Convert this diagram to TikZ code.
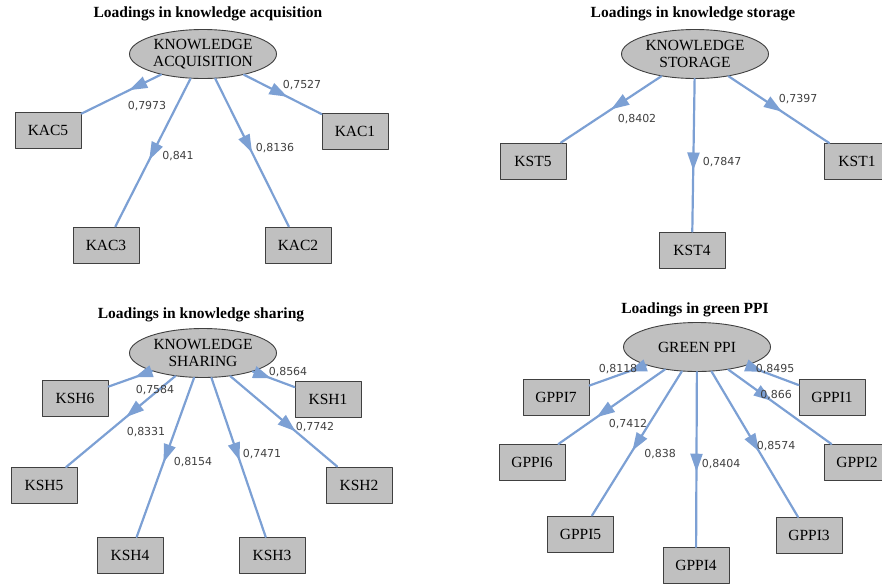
\documentclass[tikz,border=0pt]{standalone}
\usepackage{fontspec}
\setmainfont{Liberation Serif}
\newfontfamily\itemfont{Liberation Serif}
\newfontfamily\weightfont{DejaVu Sans}
\usepackage{xcolor}
\usetikzlibrary{arrows.meta,decorations.markings,shapes.geometric}
\definecolor{pathblue}{RGB}{124,160,212}
\definecolor{semgray}{RGB}{192,192,192}
\tikzset{
  every picture/.append style={line cap=round,line join=round},
  sem latent/.style={ellipse,draw=black!75,fill=semgray,line width=0.9pt,minimum width=147pt,minimum height=49pt,inner sep=0pt,align=center,font=\itemfont\fontsize{15.5}{17}\selectfont},
  sem item/.style={rectangle,draw=black!75,fill=semgray,line width=1pt,minimum width=66pt,minimum height=36pt,inner sep=0pt,font=\itemfont\fontsize{15.5}{17}\selectfont},
  sem title/.style={font=\itemfont\fontsize{15.5}{17}\selectfont\bfseries},
  sem weight/.style={font=\weightfont\fontsize{11}{13}\selectfont,text=black!75,inner sep=0pt},
  sem path/.style={pathblue,line width=2.2pt,postaction={decorate},
    decoration={markings,mark=at position #1 with {\arrow{Triangle[length=18pt 0 0,width=12pt 0 0]}}}},
  sem path/.default=0.5
}
\begin{document}
\begin{tikzpicture}[x=1pt,y=-1pt]
  \useasboundingbox (0,0) rectangle (882,584);

  % knowledge acquisition
  \node[sem title] (t1) at (208,14) {Loadings in knowledge acquisition};
  \node[sem latent] (ka) at (203,54) {KNOWLEDGE\\ACQUISITION};
  \node[sem item] (kac5) at (48,130) {KAC5};
  \node[sem item] (kac1) at (355,131) {KAC1};
  \node[sem item] (kac3) at (106,245) {KAC3};
  \node[sem item] (kac2) at (298,245) {KAC2};
  \foreach \i/\p in {kac5/0.40,kac1/0.56,kac3/0.55,kac2/0.50}
    \draw[sem path=\p] (ka) -- (\i);
  \node[sem weight] (w11) at (302,85) {0,7527};
  \node[sem weight] (w12) at (147,106) {0,7973};
  \node[sem weight] (w13) at (178,156) {0,841};
  \node[sem weight] (w14) at (275,148) {0,8136};

  % knowledge storage
  \node[sem title] (t2) at (693,14) {Loadings in knowledge storage};
  \node[sem latent] (ks) at (695,54) {KNOWLEDGE\\STORAGE};
  \node[sem item] (kst5) at (533,161) {KST5};
  \node[sem item] (kst1) at (857,161.5) {KST1};
  \node[sem item] (kst4) at (692,250) {KST4};
  \foreach \i/\p in {kst5/0.50,kst1/0.53,kst4/0.60}
    \draw[sem path=\p] (ks) -- (\i);
  \node[sem weight] (w21) at (637,119) {0,8402};
  \node[sem weight] (w22) at (722,162) {0,7847};
  \node[sem weight] (w23) at (798,99) {0,7397};

  % knowledge sharing
  \node[sem title] (t3) at (201,315) {Loadings in knowledge sharing};
  \node[sem latent] (ksh) at (203,353) {KNOWLEDGE\\SHARING};
  \node[sem item] (ksh6) at (75,398.5) {KSH6};
  \node[sem item] (ksh1) at (328,399.5) {KSH1};
  \node[sem item] (ksh5) at (44,485.5) {KSH5};
  \node[sem item] (ksh2) at (359,485) {KSH2};
  \node[sem item] (ksh4) at (130,555.5) {KSH4};
  \node[sem item] (ksh3) at (272,555.5) {KSH3};
  \foreach \i/\p in {ksh6/0.40,ksh1/0.44,ksh5/0.45,ksh2/0.61,ksh4/0.53,ksh3/0.52}
    \draw[sem path=\p] (ksh) -- (\i);
  \node[sem weight] (w31) at (288,372) {0,8564};
  \node[sem weight] (w32) at (155,390) {0,7584};
  \node[sem weight] (w33) at (146,432) {0,8331};
  \node[sem weight] (w34) at (315,427) {0,7742};
  \node[sem weight] (w35) at (193,462) {0,8154};
  \node[sem weight] (w36) at (262,454) {0,7471};

  % green PPI
  \node[sem title] (t4) at (695,310) {Loadings in green PPI};
  \node[sem latent] (gp) at (697,347) {GREEN PPI};
  \node[sem item] (gppi7) at (556,397.5) {GPPI7};
  \node[sem item] (gppi1) at (832,397.5) {GPPI1};
  \node[sem item] (gppi6) at (532,462.5) {GPPI6};
  \node[sem item] (gppi2) at (857,462.5) {GPPI2};
  \node[sem item] (gppi5) at (580.5,534) {GPPI5};
  \node[sem item] (gppi3) at (809,535.5) {GPPI3};
  \node[sem item] (gppi4) at (696,565.5) {GPPI4};
  \foreach \i/\p in {gppi7/0.31,gppi1/0.32,gppi6/0.64,gppi2/0.42,gppi5/0.55,gppi3/0.55,gppi4/0.57}
    \draw[sem path=\p] (gp) -- (\i);
  \node[sem weight] (w41) at (618,369) {0,8118};
  \node[sem weight] (w42) at (775,369) {0,8495};
  \node[sem weight] (w43) at (776,395) {0,866};
  \node[sem weight] (w44) at (628,424) {0,7412};
  \node[sem weight] (w45) at (660,454) {0,838};
  \node[sem weight] (w46) at (721,464) {0,8404};
  \node[sem weight] (w47) at (776,446) {0,8574};
\end{tikzpicture}
\end{document}
